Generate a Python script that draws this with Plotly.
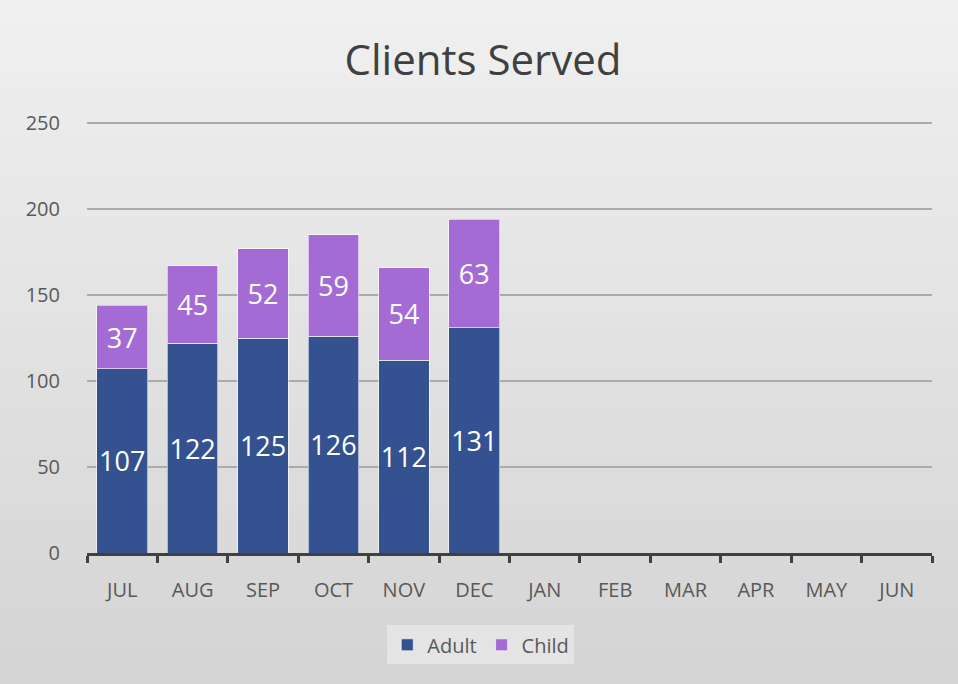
import plotly.graph_objects as go

months = ["JUL", "AUG", "SEP", "OCT", "NOV", "DEC", "JAN", "FEB", "MAR", "APR", "MAY", "JUN"]
adult = [107, 122, 125, 126, 112, 131, None, None, None, None, None, None]
child = [37, 45, 52, 59, 54, 63, None, None, None, None, None, None]
y_ticks = [0, 50, 100, 150, 200, 250]

FONT = "Open Sans"
W, H = 958, 684
ML, MR, MT, MB = 87, 26, 122, 131
PH = H - MT - MB

fig = go.Figure()
for name, vals, color in [("Adult", adult, "#34528f"), ("Child", child, "#a56bd4")]:
    fig.add_trace(go.Bar(
        name=name, x=months, y=vals,
        marker=dict(color=color, line=dict(color="rgba(255,255,255,0.6)", width=1)),
        text=vals, textposition="inside", insidetextanchor="middle", textangle=0,
        textfont=dict(family=FONT, size=27, color="white"),
        constraintext="none", hoverinfo="skip",
    ))

# soft vertical background gradient (decorative): lighter at top, darker at bottom
shapes = []
nb = 57
for i in range(nb):
    ybot = H - i * H / nb          # pixel from top (bottom edge of band)
    ytop = H - (i + 1) * H / nb    # pixel from top (top edge of band)
    t = i / (nb - 1)
    g = int(round(212 + 28 * t))
    shapes.append(dict(
        type="rect", xref="paper", yref="paper", layer="below",
        x0=-ML / (W - ML - MR) - 0.01, x1=1 + MR / (W - ML - MR) + 0.01,
        y0=(H - MB - ybot) / PH, y1=(H - MB - ytop) / PH + 0.003,
        fillcolor=f"rgb({g},{g},{g})", line=dict(width=0),
    ))

fig.update_layout(
    width=W, height=H,
    barmode="stack", bargap=0.28,
    paper_bgcolor="#dedede", plot_bgcolor="rgba(0,0,0,0)",
    margin=dict(l=ML, r=MR, t=MT, b=MB),
    shapes=shapes,
    title=dict(text="Clients Served", x=483 / W, xanchor="center", y=0.912, yanchor="middle",
               font=dict(family=FONT, size=42, color="#404040")),
    font=dict(family=FONT, color="#595959"),
    xaxis=dict(
        categoryorder="array", categoryarray=months,
        tickfont=dict(size=20, color="#595959"),
        showline=True, linecolor="#404040", linewidth=3,
        ticks="outside", tickson="boundaries", ticklen=7, tickwidth=3, tickcolor="#404040",
        showgrid=False, ticklabelstandoff=17,
    ),
    yaxis=dict(
        range=[0, 250.6], tickvals=y_ticks,
        tickfont=dict(size=20, color="#595959"),
        gridcolor="#ababab", gridwidth=1.5, zeroline=False,
        ticks="", ticklabelstandoff=26,
    ),
    legend=dict(orientation="h", x=0.466, xanchor="center", y=-0.213, yanchor="middle",
                bgcolor="#e4e4e4", font=dict(size=20, color="#595959"),
                itemwidth=30, traceorder="normal"),
)

fig.write_html("out.html", config={"displayModeBar": False},
               post_script="document.body.style.margin='0';document.body.style.overflow='hidden';")
